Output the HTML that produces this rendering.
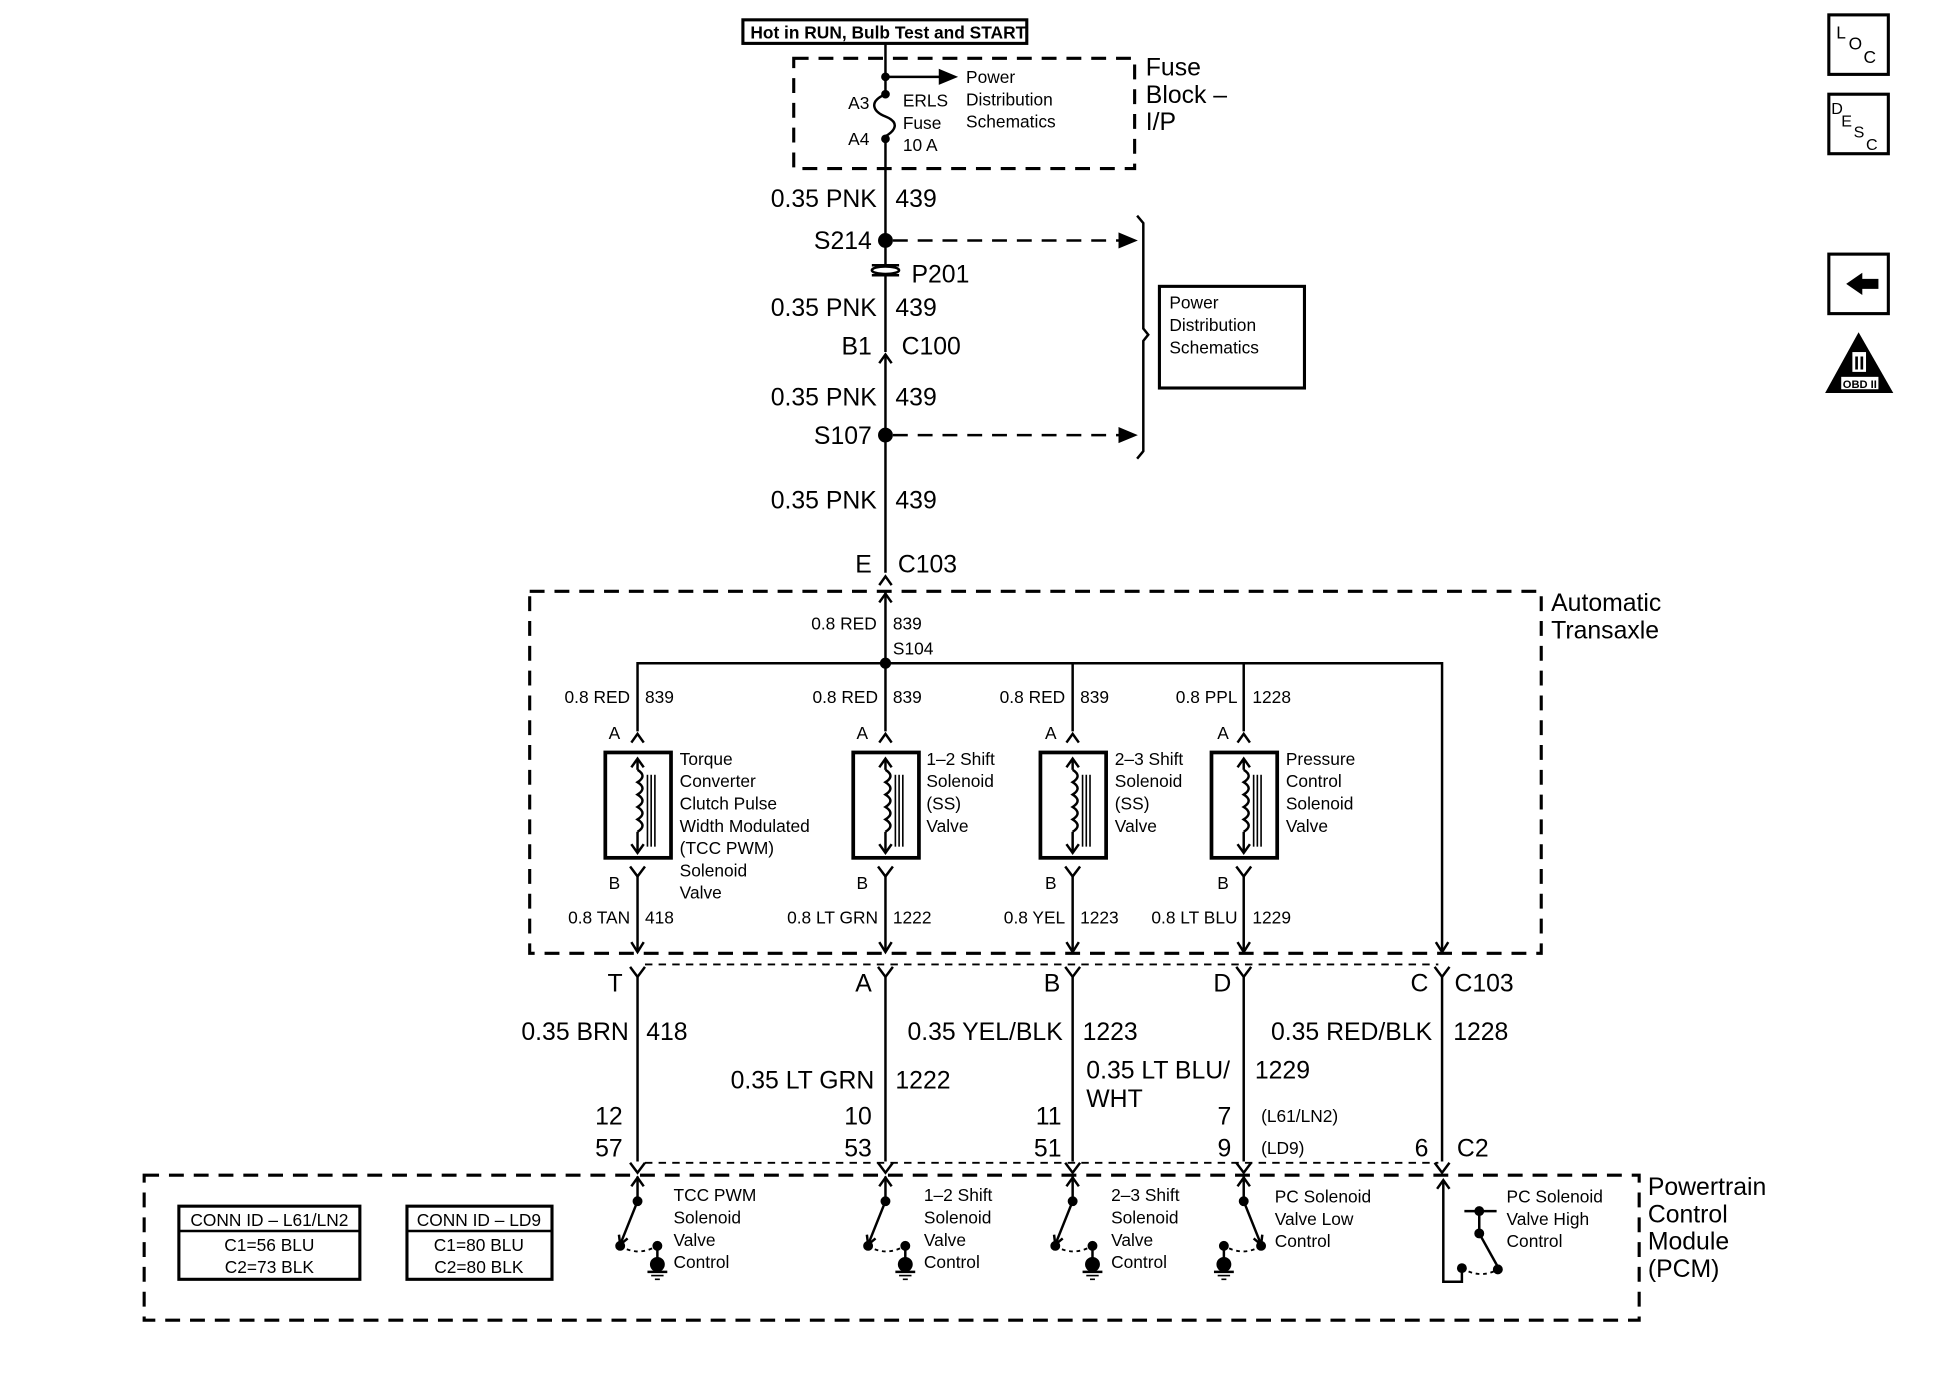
<!DOCTYPE html>
<html><head><meta charset="utf-8"><style>
html,body{margin:0;padding:0;background:#fff}
svg{display:block}
text{font-family:"Liberation Sans",Arial,sans-serif;fill:#000}
.b{font-size:20px}
.s{font-size:14px}
.m{font-size:15px}
</style></head><body>
<svg width="1942" height="1376" viewBox="0 0 1566 1110" xmlns="http://www.w3.org/2000/svg">
<defs>
<g id="coil" stroke="#000" fill="none">
<rect x="-26" y="0" width="53" height="85" stroke-width="3"/>
<line x1="0" y1="5" x2="0" y2="14" stroke-width="2"/>
<line x1="0" y1="64" x2="0" y2="81" stroke-width="2"/>
<polyline points="-5,12 0,5 5,12" stroke-width="2"/>
<polyline points="-5,74 0,81 5,74" stroke-width="2"/>
<path d="M0 14 q8 5 0 10 q8 5 0 10 q8 5 0 10 q8 5 0 10 q8 5 0 10" stroke-width="2"/>
<line x1="8" y1="18" x2="8" y2="76" stroke-width="1.3"/>
<line x1="11" y1="18" x2="11" y2="76" stroke-width="1.3"/>
<line x1="14" y1="18" x2="14" y2="76" stroke-width="1.3"/>
</g>
<g id="up" stroke="#000" fill="none" stroke-width="2"><polyline points="-5,8 0,1 5,8"/></g>
<g id="yc" stroke="#000" fill="none" stroke-width="2"><polyline points="-6,0 0,8 6,0"/></g>
<g id="sw" stroke="#000" fill="none" stroke-width="2">
<line x1="0" y1="949" x2="0" y2="969"/>
<polyline points="-5,957 0,950 5,957"/>
<circle cx="0" cy="969" r="3" fill="#000"/>
<line x1="0" y1="969" x2="-14" y2="1004"/>
<polyline points="-15,996 -14,1004 -8,999"/>
<circle cx="-14" cy="1005" r="3" fill="#000"/>
<path d="M-14 1005 Q0 1014 16 1005" stroke-dasharray="3,3" stroke-width="1.5"/>
<circle cx="16" cy="1005" r="3" fill="#000"/>
<line x1="16" y1="1005" x2="16" y2="1016"/>
<circle cx="16" cy="1020" r="6" fill="#000" stroke="none"/>
<line x1="8" y1="1026" x2="24" y2="1026"/>
<line x1="11" y1="1029" x2="21" y2="1029" stroke-width="1.3"/>
<line x1="14" y1="1032" x2="18" y2="1032" stroke-width="1.3"/>
</g>
</defs>

<g stroke="#000" fill="none" stroke-width="2">
<!-- top box -->
<rect x="599" y="16" width="229" height="19" stroke-width="2.5"/>
<!-- fuse block -->
<rect x="640" y="47" width="275" height="89" stroke-dasharray="12,8" stroke-width="2.5"/>
<line x1="714" y1="35" x2="714" y2="76"/>
<line x1="714" y1="62" x2="764" y2="62"/>
<path d="M758 57 L770 62 L758 67Z" fill="#000"/>
<circle cx="714" cy="62" r="2.5" fill="#000"/>
<circle cx="714" cy="76" r="2.5" fill="#000"/>
<path d="M714 76 C700 82 704 90 714 94 C724 98 724 104 714 110"/>
<circle cx="714" cy="112" r="2.5" fill="#000"/>
<line x1="714" y1="112" x2="714" y2="214"/>
<circle cx="714" cy="194" r="5" fill="#000"/>
<line x1="720" y1="194" x2="905" y2="194" stroke-dasharray="12,8"/>
<path d="M903 189 L915 194 L903 199Z" fill="#000"/>
<!-- P201 -->
<path d="M703 214 h22 M703 222 h22"/>
<ellipse cx="714" cy="218" rx="11" ry="3"/>
<line x1="714" y1="222" x2="714" y2="284"/>
<use href="#up" transform="translate(714,285)"/>
<line x1="714" y1="287" x2="714" y2="462"/>
<circle cx="714" cy="351" r="5" fill="#000"/>
<line x1="720" y1="351" x2="905" y2="351" stroke-dasharray="12,8"/>
<path d="M903 346 L915 351 L903 356Z" fill="#000"/>
<!-- brace -->
<path d="M917 174 L922 180 L922 265 L926 270 L922 275 L922 364 L917 370"/>
<rect x="935" y="231" width="117" height="82" stroke-width="2.5"/>
<use href="#up" transform="translate(714,464)"/>
<!-- automatic transaxle box -->
<rect x="427" y="477" width="816" height="292" stroke-dasharray="12,8" stroke-width="2.5"/>
<line x1="714" y1="478" x2="714" y2="590"/>
<polyline points="709,486 714,479 719,486"/>
<circle cx="714" cy="535" r="3.5" fill="#000"/>
<polyline points="514,590 514,535 1163,535 1163,768"/>
<line x1="865" y1="535" x2="865" y2="590"/>
<line x1="1003" y1="535" x2="1003" y2="590"/>
<polyline points="1158,760 1163,768 1168,760"/>
</g>

<!-- coils -->
<g stroke="#000" fill="none" stroke-width="2">
<use href="#up" transform="translate(514,591)"/>
<use href="#up" transform="translate(714,591)"/>
<use href="#up" transform="translate(865,591)"/>
<use href="#up" transform="translate(1003,591)"/>
<use href="#coil" transform="translate(514,607)"/>
<use href="#coil" transform="translate(714,607)"/>
<use href="#coil" transform="translate(865,607)"/>
<use href="#coil" transform="translate(1003,607)"/>
<use href="#yc" transform="translate(514,699)"/>
<use href="#yc" transform="translate(714,699)"/>
<use href="#yc" transform="translate(865,699)"/>
<use href="#yc" transform="translate(1003,699)"/>
<path d="M514 707 V768 M714 707 V768 M865 707 V768 M1003 707 V768"/>
<polyline points="509,760 514,768 519,760"/>
<polyline points="709,760 714,768 719,760"/>
<polyline points="860,760 865,768 870,760"/>
<polyline points="998,760 1003,768 1008,760"/>
<!-- short dashed line -->
<line x1="520" y1="778" x2="1160" y2="778" stroke-dasharray="6,5" stroke-width="1.5"/>
<use href="#yc" transform="translate(514,780)"/>
<use href="#yc" transform="translate(714,780)"/>
<use href="#yc" transform="translate(865,780)"/>
<use href="#yc" transform="translate(1003,780)"/>
<use href="#yc" transform="translate(1163,780)"/>
<path d="M514 788 V937 M714 788 V937 M865 788 V937 M1003 788 V937 M1163 788 V937"/>
<use href="#yc" transform="translate(514,938)"/>
<use href="#yc" transform="translate(714,938)"/>
<use href="#yc" transform="translate(865,938)"/>
<use href="#yc" transform="translate(1003,938)"/>
<use href="#yc" transform="translate(1163,938)"/>
<line x1="520" y1="938" x2="1160" y2="938" stroke-dasharray="6,5" stroke-width="1.5"/>
<!-- PCM -->
<rect x="116" y="948" width="1206" height="117" stroke-dasharray="12,8" stroke-width="2.5"/>
<rect x="144" y="973" width="146" height="59" stroke-width="2.5"/>
<line x1="144" y1="993" x2="290" y2="993"/>
<rect x="328" y="973" width="117" height="59" stroke-width="2.5"/>
<line x1="328" y1="993" x2="445" y2="993"/>
<use href="#sw" transform="translate(514,0)"/>
<use href="#sw" transform="translate(714,0)"/>
<use href="#sw" transform="translate(865,0)"/>
<use href="#sw" transform="matrix(-1,0,0,1,1003,0)"/>
<!-- PC high -->
<polyline points="1164,952 1164,1034 1179,1034 1179,1024"/>
<polyline points="1159,959 1164,952 1169,959"/>
<circle cx="1179" cy="1023" r="3" fill="#000"/>
<line x1="1181" y1="977" x2="1207" y2="977"/>
<circle cx="1193" cy="977" r="3" fill="#000"/>
<line x1="1193" y1="977" x2="1193" y2="995"/>
<circle cx="1193" cy="995" r="3" fill="#000"/>
<line x1="1193" y1="995" x2="1208" y2="1022"/>
<circle cx="1208" cy="1024" r="3" fill="#000"/>
<path d="M1179 1023 Q1194 1032 1208 1024" stroke-dasharray="3,3" stroke-width="1.5"/>
<!-- icons -->
<rect x="1475" y="12" width="48" height="48" stroke-width="2.5"/>
<rect x="1475" y="76" width="48" height="48" stroke-width="2.5"/>
<rect x="1475" y="205" width="48" height="48" stroke-width="2.5"/>
</g>
<path d="M1489 229 L1502 220 L1502 225 L1515 225 L1515 233 L1502 233 L1502 238Z" fill="#000"/>
<path d="M1499 268 L1527 317 L1472 317Z" fill="#000"/>
<rect x="1485" y="304" width="30" height="10" fill="#fff"/>
<text x="1500" y="313" font-size="9" text-anchor="middle" font-weight="bold">OBD II</text>
<rect x="1494" y="284" width="11" height="16" fill="#fff"/>
<text x="1499.5" y="298" font-size="15" text-anchor="middle" font-family="Liberation Serif" font-weight="bold">II</text>
<text x="1481" y="31" font-size="14">L</text><text x="1491" y="40" font-size="14">O</text><text x="1503" y="51" font-size="14">C</text>
<text x="1477" y="92" font-size="13">D</text><text x="1485" y="102" font-size="13">E</text><text x="1495" y="111" font-size="13">S</text><text x="1505" y="121" font-size="13">C</text>

<!-- texts -->
<text x="605" y="31" class="s" font-weight="bold">Hot in RUN, Bulb Test and START</text>
<text x="779" y="67" class="s">Power</text>
<text x="779" y="85" class="s">Distribution</text>
<text x="779" y="103" class="s">Schematics</text>
<text x="728" y="86" class="s">ERLS</text>
<text x="728" y="104" class="s">Fuse</text>
<text x="728" y="122" class="s">10 A</text>
<text x="701" y="88" class="s" text-anchor="end">A3</text>
<text x="701" y="117" class="s" text-anchor="end">A4</text>
<text x="924" y="61" class="b">Fuse</text>
<text x="924" y="83" class="b">Block –</text>
<text x="924" y="105" class="b">I/P</text>

<text x="707" y="167" class="b" text-anchor="end">0.35 PNK</text><text x="722" y="167" class="b">439</text>
<text x="703" y="201" class="b" text-anchor="end">S214</text>
<text x="735" y="228" class="b">P201</text>
<text x="707" y="255" class="b" text-anchor="end">0.35 PNK</text><text x="722" y="255" class="b">439</text>
<text x="703" y="286" class="b" text-anchor="end">B1</text><text x="727" y="286" class="b">C100</text>
<text x="707" y="327" class="b" text-anchor="end">0.35 PNK</text><text x="722" y="327" class="b">439</text>
<text x="703" y="358" class="b" text-anchor="end">S107</text>
<text x="707" y="410" class="b" text-anchor="end">0.35 PNK</text><text x="722" y="410" class="b">439</text>
<text x="703" y="462" class="b" text-anchor="end">E</text><text x="724" y="462" class="b">C103</text>
<text x="943" y="249" class="s">Power</text>
<text x="943" y="267" class="s">Distribution</text>
<text x="943" y="285" class="s">Schematics</text>

<text x="1251" y="493" class="b">Automatic</text>
<text x="1251" y="515" class="b">Transaxle</text>
<text x="707" y="508" class="s" text-anchor="end">0.8 RED</text><text x="720" y="508" class="s">839</text>
<text x="720" y="528" class="s">S104</text>
<text x="508" y="567" class="s" text-anchor="end">0.8 RED</text><text x="520" y="567" class="s">839</text>
<text x="708" y="567" class="s" text-anchor="end">0.8 RED</text><text x="720" y="567" class="s">839</text>
<text x="859" y="567" class="s" text-anchor="end">0.8 RED</text><text x="871" y="567" class="s">839</text>
<text x="998" y="567" class="s" text-anchor="end">0.8 PPL</text><text x="1010" y="567" class="s">1228</text>
<text x="500" y="596" class="s" text-anchor="end">A</text>
<text x="700" y="596" class="s" text-anchor="end">A</text>
<text x="852" y="596" class="s" text-anchor="end">A</text>
<text x="991" y="596" class="s" text-anchor="end">A</text>
<text x="500" y="717" class="s" text-anchor="end">B</text>
<text x="700" y="717" class="s" text-anchor="end">B</text>
<text x="852" y="717" class="s" text-anchor="end">B</text>
<text x="991" y="717" class="s" text-anchor="end">B</text>
<g class="s">
<text x="548" y="617" class="s">Torque</text><text x="548" y="635" class="s">Converter</text><text x="548" y="653" class="s">Clutch Pulse</text><text x="548" y="671" class="s">Width Modulated</text><text x="548" y="689" class="s">(TCC PWM)</text><text x="548" y="707" class="s">Solenoid</text><text x="548" y="725" class="s">Valve</text>
<text x="747" y="617" class="s">1–2 Shift</text><text x="747" y="635" class="s">Solenoid</text><text x="747" y="653" class="s">(SS)</text><text x="747" y="671" class="s">Valve</text>
<text x="899" y="617" class="s">2–3 Shift</text><text x="899" y="635" class="s">Solenoid</text><text x="899" y="653" class="s">(SS)</text><text x="899" y="671" class="s">Valve</text>
<text x="1037" y="617" class="s">Pressure</text><text x="1037" y="635" class="s">Control</text><text x="1037" y="653" class="s">Solenoid</text><text x="1037" y="671" class="s">Valve</text>
</g>
<text x="508" y="745" class="s" text-anchor="end">0.8 TAN</text><text x="520" y="745" class="s">418</text>
<text x="708" y="745" class="s" text-anchor="end">0.8 LT GRN</text><text x="720" y="745" class="s">1222</text>
<text x="859" y="745" class="s" text-anchor="end">0.8 YEL</text><text x="871" y="745" class="s">1223</text>
<text x="998" y="745" class="s" text-anchor="end">0.8 LT BLU</text><text x="1010" y="745" class="s">1229</text>

<text x="502" y="800" class="b" text-anchor="end">T</text>
<text x="703" y="800" class="b" text-anchor="end">A</text>
<text x="855" y="800" class="b" text-anchor="end">B</text>
<text x="993" y="800" class="b" text-anchor="end">D</text>
<text x="1152" y="800" class="b" text-anchor="end">C</text>
<text x="1173" y="800" class="b">C103</text>
<text x="507" y="839" class="b" text-anchor="end">0.35 BRN</text><text x="521" y="839" class="b">418</text>
<text x="705" y="878" class="b" text-anchor="end">0.35 LT GRN</text><text x="722" y="878" class="b">1222</text>
<text x="857" y="839" class="b" text-anchor="end">0.35 YEL/BLK</text><text x="873" y="839" class="b">1223</text>
<text x="876" y="870" class="b">0.35 LT BLU/</text><text x="876" y="893" class="b">WHT</text>
<text x="1012" y="870" class="b">1229</text>
<text x="1155" y="839" class="b" text-anchor="end">0.35 RED/BLK</text><text x="1172" y="839" class="b">1228</text>
<text x="502" y="907" class="b" text-anchor="end">12</text><text x="502" y="933" class="b" text-anchor="end">57</text>
<text x="703" y="907" class="b" text-anchor="end">10</text><text x="703" y="933" class="b" text-anchor="end">53</text>
<text x="856" y="907" class="b" text-anchor="end">11</text><text x="856" y="933" class="b" text-anchor="end">51</text>
<text x="993" y="907" class="b" text-anchor="end">7</text><text x="993" y="933" class="b" text-anchor="end">9</text>
<text x="1017" y="905" class="s">(L61/LN2)</text><text x="1017" y="931" class="s">(LD9)</text>
<text x="1152" y="933" class="b" text-anchor="end">6</text><text x="1175" y="933" class="b">C2</text>

<text x="1329" y="964" class="b">Powertrain</text>
<text x="1329" y="986" class="b">Control</text>
<text x="1329" y="1008" class="b">Module</text>
<text x="1329" y="1030" class="b">(PCM)</text>
<text x="217" y="989" class="s" text-anchor="middle">CONN ID – L61/LN2</text>
<text x="217" y="1009" class="s" text-anchor="middle">C1=56 BLU</text>
<text x="217" y="1027" class="s" text-anchor="middle">C2=73 BLK</text>
<text x="386" y="989" class="s" text-anchor="middle">CONN ID – LD9</text>
<text x="386" y="1009" class="s" text-anchor="middle">C1=80 BLU</text>
<text x="386" y="1027" class="s" text-anchor="middle">C2=80 BLK</text>
<text x="543" y="969" class="s">TCC PWM</text><text x="543" y="987" class="s">Solenoid</text><text x="543" y="1005" class="s">Valve</text><text x="543" y="1023" class="s">Control</text>
<text x="745" y="969" class="s">1–2 Shift</text><text x="745" y="987" class="s">Solenoid</text><text x="745" y="1005" class="s">Valve</text><text x="745" y="1023" class="s">Control</text>
<text x="896" y="969" class="s">2–3 Shift</text><text x="896" y="987" class="s">Solenoid</text><text x="896" y="1005" class="s">Valve</text><text x="896" y="1023" class="s">Control</text>
<text x="1028" y="970" class="s">PC Solenoid</text><text x="1028" y="988" class="s">Valve Low</text><text x="1028" y="1006" class="s">Control</text>
<text x="1215" y="970" class="s">PC Solenoid</text><text x="1215" y="988" class="s">Valve High</text><text x="1215" y="1006" class="s">Control</text>
</svg>
</body></html>
